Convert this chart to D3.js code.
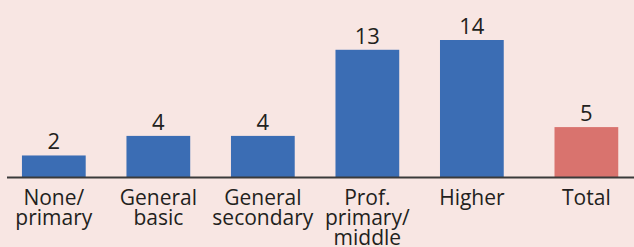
<!DOCTYPE html>
<html>
<head>
<meta charset="utf-8">
<script src="https://cdn.jsdelivr.net/npm/d3@7"></script>
<style>
  html, body { margin: 0; padding: 0; background: #f8e6e3; }
  svg { display: block; }
  text { font-family: "Open Sans", sans-serif; fill: #231f20; }
</style>
</head>
<body>
<div id="chart"></div>
<script>
// values (labels show rounded numbers)
const categories = ["None/\nprimary", "General\nbasic", "General\nsecondary", "Prof.\nprimary/\nmiddle", "Higher", "Total"];
const values = [2.2, 4.2, 4.2, 13, 14, 5.1];
const valueLabels = ["2", "4", "4", "13", "14", "5"];

const width = 634, height = 247;
const baseline = 177;
const totalGap = 10; // extra space before the Total bar

const svg = d3.select("#chart")
  .append("svg")
  .attr("width", width)
  .attr("height", height);

const x = d3.scaleBand()
  .domain(categories)
  .range([11.5, 618.7])
  .paddingInner(0.39)
  .paddingOuter(0.1);

const y = d3.scaleLinear()
  .domain([0, 14])
  .range([baseline, 40]);

const xPos = c => x(c) + (c === "Total" ? totalGap : 0);

const data = categories.map((c, i) => ({ cat: c, value: values[i], label: valueLabels[i] }));

// bars
svg.selectAll("rect.bar")
  .data(data)
  .enter().append("rect")
  .attr("class", "bar")
  .attr("x", d => xPos(d.cat))
  .attr("y", d => y(d.value))
  .attr("width", x.bandwidth())
  .attr("height", d => y(0) - y(d.value))
  .attr("fill", d => d.cat === "Total" ? "#d9736e" : "#3b6db4");

// value labels
svg.selectAll("text.val")
  .data(data)
  .enter().append("text")
  .attr("class", "val")
  .attr("x", d => xPos(d.cat) + x.bandwidth() / 2)
  .attr("y", d => y(d.value) - 6)
  .attr("text-anchor", "middle")
  .style("font-size", "22px")
  .text(d => d.label);

// baseline axis
svg.append("line")
  .attr("x1", 7)
  .attr("x2", width)
  .attr("y1", y(0) + 0.5)
  .attr("y2", y(0) + 0.5)
  .attr("stroke", "#3a3a3a")
  .attr("stroke-width", 2);

// category labels
const catText = svg.selectAll("text.cat")
  .data(data)
  .enter().append("text")
  .attr("class", "cat")
  .attr("text-anchor", "middle")
  .style("font-size", "21px")
  .attr("transform", d => `translate(${xPos(d.cat) + x.bandwidth() / 2},205)`);

catText.selectAll("tspan")
  .data(d => d.cat.split("\n"))
  .enter().append("tspan")
  .attr("x", 0)
  .attr("y", (d, i) => i * 20)
  .text(d => d);
</script>
</body>
</html>
